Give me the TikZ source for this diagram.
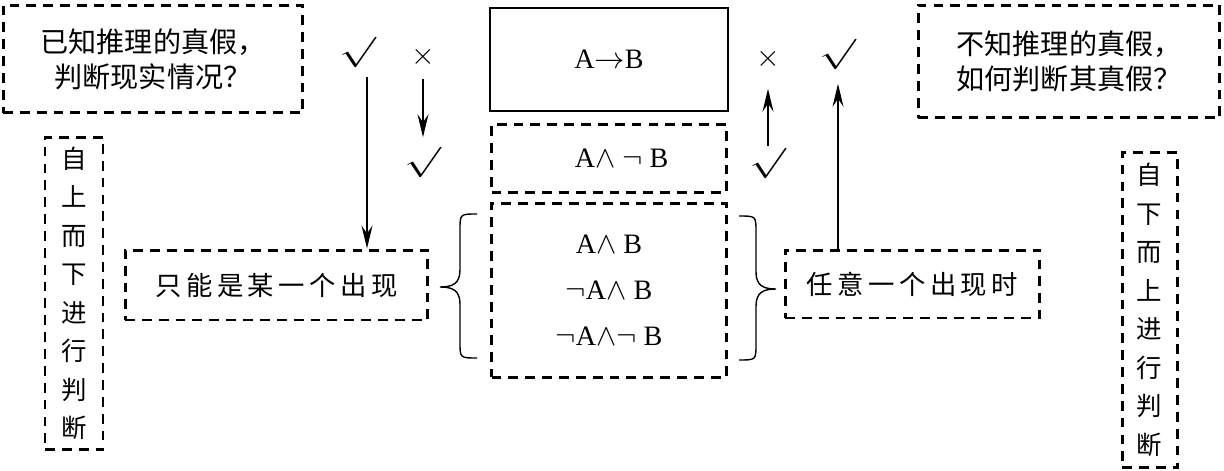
\documentclass[tikz,border=0pt]{standalone}
\usepackage{graphicx}
\usepackage{fontspec}
\setmainfont{Liberation Serif}
\newfontfamily\cjk{Noto Sans CJK SC}
\newfontfamily\cjkwide[LetterSpace=17]{Noto Sans CJK SC}
\usetikzlibrary{arrows.meta, positioning}
\newcommand{\tick}{\scalebox{1.45}[1]{$\surd$}}

\begin{document}
\begin{tikzpicture}[
  x=0.02cm, y=-0.02cm,
  every node/.style={font=\fontsize{16}{20}\selectfont},
  dbox/.style={
    draw, dash pattern=on 5.6pt off 4pt, line width=1.7pt,
    align=center, inner sep=0pt
  },
  sbox/.style={draw, line width=1.1pt, inner sep=0pt},
  note/.style={dbox, font=\cjk\fontsize{16}{20}\selectfont},
  vnote/.style={dbox, font=\cjk\fontsize{14.5}{21.9}\selectfont},
  pick/.style={dbox, font=\cjkwide\fontsize{15}{20}\selectfont},
  sym/.style={inner sep=1pt, font=\fontsize{19}{19}\selectfont},
  cross/.style={inner sep=1pt, font=\fontsize{17}{17}\selectfont},
  arrow/.style={-{Stealth[length=4.6mm, width=2.2mm, inset=1.6mm]}, line width=0.7pt},
  curly/.style={line width=0.8pt}
]
  \useasboundingbox (0,0) rectangle (1224,470);

  % 左右两侧的问题框
  \node[note, minimum width=6cm, minimum height=2.16cm] (known) at (153,59)
    {已知推理的真假，\\判断现实情况？};
  \node[note, minimum width=6.04cm, minimum height=2.26cm] (unknown) at (1069,61.5)
    {不知推理的真假，\\如何判断其真假？};
  \node[vnote, minimum width=1.16cm, minimum height=6.26cm] (down) at (74,293.5)
    {自\\上\\而\\下\\进\\行\\判\\断};
  \node[vnote, minimum width=1.1cm, minimum height=6.32cm] (up) at (1149.5,310)
    {自\\下\\而\\上\\进\\行\\判\\断};

  % 中间一列
  \node[sbox, minimum width=4.76cm, minimum height=2.06cm] (imp) at (609,59.5)
    {A$\rightarrow$B};
  \node[dbox, minimum width=4.7cm, minimum height=1.36cm, below=0.22cm of imp.south, anchor=north] (nab)
    {\hspace*{0.9em}A$\wedge$ $\neg$ B};
  \node[dbox, minimum width=4.7cm, minimum height=3.48cm, font=\fontsize{16}{26}\selectfont,
    below=0.16cm of nab.south, anchor=north] (set)
    {A$\wedge$ B\\$\neg$A$\wedge$ B\\$\neg$A$\wedge\neg$ B};

  \node[pick, minimum width=6.06cm, minimum height=1.4cm] (only) at (276.5,285) {只能是某一个出现};
  \node[pick, minimum width=5.1cm, minimum height=1.36cm] (any) at (912.5,284) {任意一个出现时};

  % 大括号
  \draw[curly] (477,214) .. controls (460,214) .. (460,230) -- (460,270)
    .. controls (460,284) and (452,287) .. (440,287)
    .. controls (452,287) and (460,290) .. (460,304) -- (460,342)
    .. controls (460,358) .. (477,358);
  \draw[curly] (739,216) .. controls (756,216) .. (756,232) -- (756,272)
    .. controls (756,286) and (764,289) .. (776,289)
    .. controls (764,289) and (756,292) .. (756,306) -- (756,344)
    .. controls (756,360) .. (739,360);

  % 真假符号
  \node[sym] (okL) at (358,52) {\tick};
  \node[cross] (crL) at (423,57) {$\times$};
  \node[sym] (okL2) at (423,162) {\tick};
  \node[cross] (crR) at (768,59) {$\times$};
  \node[sym] (okR2) at (768,163) {\tick};
  \node[sym] (okR) at (838,54) {\tick};
  \coordinate (okLfoot) at ([xshift=0.18cm]okL.south);

  % 判断方向的箭头
  \draw[arrow, shorten <=0.15cm] (okLfoot) -- (okLfoot |- only.north);
  \draw[arrow, shorten <=0.2cm, shorten >=0.15cm] (crL) -- (okL2);
  \draw[arrow, shorten >=0.35cm] (okR2) -- (crR);
  \draw[arrow, shorten >=0.25cm] (okR |- any.north) -- (okR);

\end{tikzpicture}
\end{document}
